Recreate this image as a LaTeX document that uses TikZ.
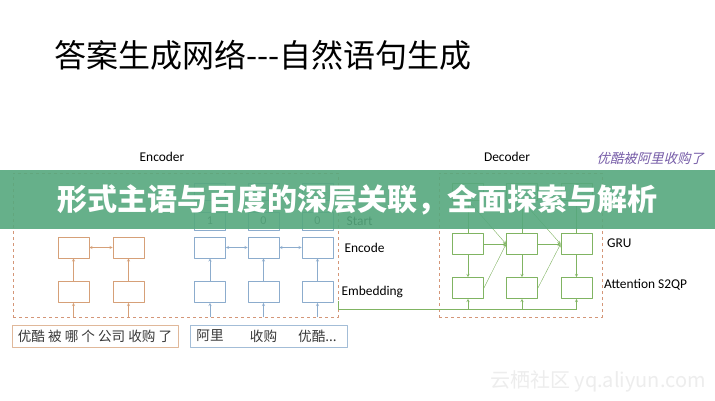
\documentclass[tikz,border=0pt]{standalone}
\usepackage{fontspec}
\setmainfont{Carlito}
\newfontfamily\cjk{Noto Sans CJK SC}
\newfontfamily\cjkit[FakeSlant=0.25]{Noto Sans CJK SC}
\usetikzlibrary{positioning}
\definecolor{encorange}{RGB}{214,160,120}
\definecolor{encblue}{RGB}{140,172,205}
\definecolor{decgreen}{RGB}{128,180,98}
\definecolor{dashred}{RGB}{212,150,120}
\definecolor{bannergreen}{RGB}{86,168,126}
\definecolor{quotepurple}{RGB}{118,92,168}
\definecolor{inktext}{RGB}{55,55,55}
\begin{document}
\begin{tikzpicture}[x=1pt,y=-1pt,>=stealth,line join=round,
    cell/.style={draw,minimum width=31pt,minimum height=21pt,inner sep=0pt,line width=0.8pt,font=\fontsize{12}{12}\selectfont,text=inktext},
    dashbox/.style={draw=dashred,dashed,line width=0.6pt,inner sep=0pt},
    inbox/.style={draw,line width=0.9pt,minimum height=22pt,inner sep=0pt,font=\cjk\fontsize{13.6}{14}\selectfont,text=inktext},
    intext/.style={font=\cjk\fontsize{13.6}{14}\selectfont,text=inktext,inner sep=0pt},
    lab/.style={font=\fontsize{13.4}{13.4}\selectfont,text=black,inner sep=0pt}]
  \useasboundingbox (0,0) rectangle (715,400);
  \fill[white] (0,0) rectangle (715,400);
  % title
  \node[font=\cjk\fontsize{32}{32}\selectfont,anchor=west,inner sep=0pt] (title) at (54,55) {答案生成网络---自然语句生成};
  \node[lab] (enclab) at (162,157) {Encoder};
  \node[lab] (declab) at (507,157) {Decoder};
  \node[font=\cjkit\fontsize{13.4}{14}\selectfont,text=quotepurple,anchor=east,inner sep=0pt] (quote) at (704,158) {优酷被阿里收购了};
  % dashed frames
  \node[dashbox,minimum width=325pt,minimum height=144pt] (encbox) at (175.5,245) {};
  \node[dashbox,minimum width=163pt,minimum height=144pt] (decbox) at (520.5,245) {};
  % question encoder
  \foreach \i/\x in {1/73.5,2/128.5}{
    \node[cell,draw=encorange] (e\i) at (\x,247.5) {};
    \node[cell,draw=encorange] (m\i) at (\x,292) {};
    \draw[encorange,->] (m\i |- encbox.south) -- (m\i);
    \draw[encorange,->] (m\i) -- (e\i);
  }
  \draw[encorange,<->] (e1) -- (e2);
  % answer encoder
  \foreach \i/\x/\v in {1/210/1,2/263.5/0,3/317.5/0}{
    \node[cell,draw=encblue,minimum height=17pt] (t\i) at (\x,191.5) {};
    \node[cell,draw=encblue,minimum height=18pt] (s\i) at (\x,221) {\v};
    \node[cell,draw=encblue] (b\i) at (\x,247.5) {};
    \node[cell,draw=encblue] (c\i) at (\x,292) {};
    \draw[encblue,->] (c\i |- encbox.south) -- (c\i);
    \draw[encblue,->] (c\i) -- (b\i);
  }
  \draw[encblue,<->] (b1) -- (b2);
  \draw[encblue,<->] (b2) -- (b3);
  \node[lab,anchor=west,right=13pt of s3] (startlab) {Start};
  \node[lab,anchor=west,right=11pt of b3] (encodelab) {Encode};
  \node[lab,anchor=west,right=8pt of c3] (emblab) {Embedding};
  % decoder
  \foreach \i/\x in {1/468,2/522,3/576.5}{
    \node[cell,draw=decgreen,minimum height=17pt] (o\i) at (\x,191.5) {};
    \node[cell,draw=decgreen] (g\i) at (\x,244) {};
    \node[cell,draw=decgreen] (a\i) at (\x,288) {};
    \draw[decgreen,->] (g\i) -- (o\i);
    \draw[decgreen,->] (g\i) -- (a\i);
  }
  \foreach \i/\j in {1/2,2/3}{
    \draw[decgreen,->] (g\i) -- (g\j);
    \draw[decgreen,->] (a\i.east) -- (g\j.west);
    \draw[decgreen,->] (o\i.south) -- (g\j.west);
  }
  \coordinate (embtop) at (338,301);
  \coordinate (embcorner) at (338,309);
  \draw[decgreen,line width=0.8pt] (embtop) -- (embcorner) -- (a3 |- embcorner);
  \foreach \i in {1,2,3}
    \draw[decgreen,->] (a\i |- embcorner) -- (a\i);
  \node[lab,anchor=west] (grulab) at (607,243) {GRU};
  \node[lab,anchor=west] (attlab) at (604,285) {Attention S2QP};
  % inputs
  \node[inbox,draw=encorange!75,minimum width=166pt] (qin) at (95,336) {优酷 被 哪 个 公司 收购 了};
  \node[inbox,draw=encblue!80,minimum width=157pt] (ain) at (268.5,336) {};
  \node[intext] (aw1) at (c1 |- ain) {阿里};
  \node[intext] (aw2) at (c2 |- ain) {收购};
  \node[intext] (aw3) at (c3 |- ain) {优酷...};
  % banner
  \fill[bannergreen,opacity=0.9] (0,170) rectangle (715,229);
  \node[font=\cjk\bfseries\fontsize{30}{30}\selectfont,text=white,inner sep=0pt] (banner) at (357.5,200) {形式主语与百度的深层关联，全面探索与解析};
  % watermark
  \node[font=\cjk\fontsize{20}{20}\selectfont,text=black!7,anchor=east,inner sep=0pt] (mark) at (706,381) {云栖社区 yq.aliyun.com};
\end{tikzpicture}
\end{document}
